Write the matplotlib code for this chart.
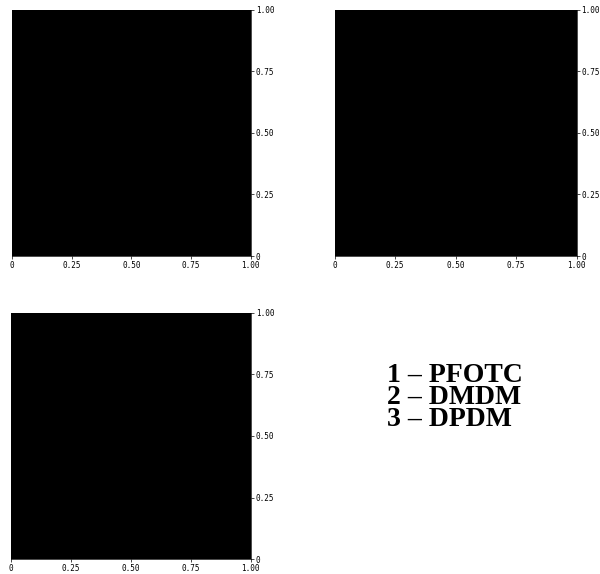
import matplotlib
matplotlib.use('Agg')
import matplotlib.pyplot as plt

# region boundaries for each panel (filled area, fractions)
x_edge = [0.0, 1.0]
lower = [0.0, 0.0]
upper = [1.0, 1.0]

ticks = [0, 0.25, 0.50, 0.75, 1.00]
tick_labels = ['0', '0.25', '0.50', '0.75', '1.00']

legend_lines = ['1 – PFOTC', '2 – DMDM', '3 – DPDM']

fig = plt.figure(figsize=(6, 5.74), dpi=100)

# panel positions [left, bottom, width, height]
boxes = [[0.020, 0.554, 0.398, 0.429],
         [0.558, 0.554, 0.403, 0.429],
         [0.018, 0.026, 0.400, 0.429]]

for box in boxes:
    ax = fig.add_axes(box)
    ax.fill_between(x_edge, lower, upper, color='black', linewidth=0)
    ax.set_xlim(0, 1)
    ax.set_ylim(0, 1)
    ax.set_xticks(ticks)
    ax.set_xticklabels(tick_labels)
    ax.set_yticks(ticks)
    ax.set_yticklabels(tick_labels)
    ax.yaxis.tick_right()
    ax.tick_params(labelsize=5.5, length=2, width=0.5, pad=1.5)
    for lab in ax.get_xticklabels() + ax.get_yticklabels():
        lab.set_family('DejaVu Sans Mono')
    for s in ax.spines.values():
        s.set_linewidth(0.5)

#legend text at the lower right, one block
fig.text(0.645, 0.308, '\n'.join(legend_lines), fontsize=20, fontweight='bold',
         family='Liberation Serif', ha='left', va='center', linespacing=0.85)

fig.savefig('out.png', dpi=100)
